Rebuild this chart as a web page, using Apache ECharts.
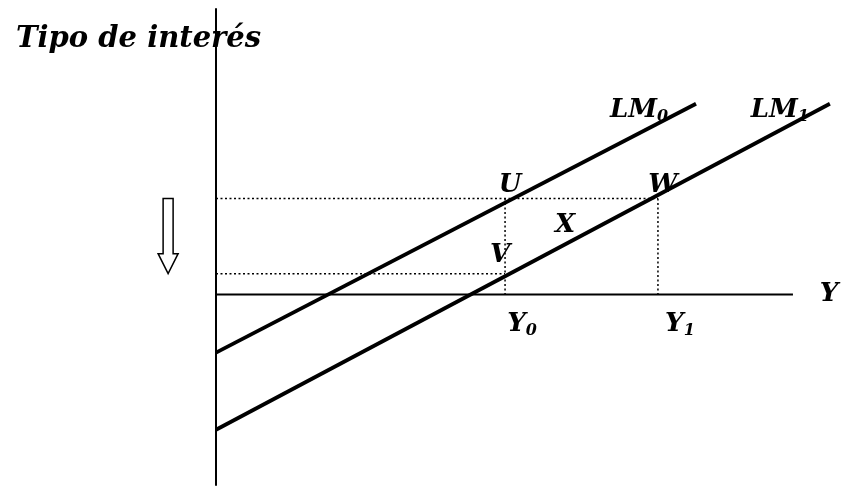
<!DOCTYPE html>
<html>
<head>
<meta charset="UTF-8">
<title>LM</title>
<script src="https://cdn.jsdelivr.net/npm/echarts@6/dist/echarts.min.js"></script>
<style>
  html, body { margin: 0; padding: 0; background: #fff; }
  #main { width: 842px; height: 486px; }
</style>
</head>
<body>
<div id="main"></div>
<script type="text/javascript">
    // valores (unidades arbitrarias)
    var lm0 = [[0, -12.2], [83.2, 40.1]];
    var lm1 = [[0, -28.4], [106.4, 40.1]];
    var axisY = [[0, 0], [100, 0]];
    var y0 = 50.1, y1 = 76.6;      // renta
    var iU = 20.2, iV = 4.4;       // tipo de interes
    var arrowX = -8.3;
    var pointNames = ['U', 'W', 'V', 'X'];
    var pointValues = [[y0, iU], [y1, iU], [y0, iV], [60.5, 14.5]];
    var lineNames = ['LM', 'LM'];
    var subs = ['0', '1'];

    var font = 'DejaVu Serif';
    var chart = echarts.init(document.getElementById('main'));

    var txt = {
        color: '#000',
        opacity: 1,
        fontFamily: font,
        fontStyle: 'italic',
        fontWeight: 'bold',
        fontSize: 26,
        textBorderWidth: 0
    };

    function richLabel(main, sub, offset) {
        return {
            show: true,
            position: 'inside',
            offset: offset,
            color: '#000',
            opacity: 1,
            formatter: '{m|' + main + '}{s|' + sub + '}',
            rich: {
                m: Object.assign({}, txt),
                s: Object.assign({}, txt, { fontSize: 16, padding: [13, 0, 0, 0] })
            }
        };
    }

    function plainLabel(t, offset) {
        return Object.assign({
            show: true,
            position: 'inside',
            offset: offset,
            formatter: t
        }, txt);
    }

    var guides = [
        [[0, iU], [y1, iU]],
        [[y0, iU], [y0, 0]],
        [[y1, iU], [y1, 0]],
        [[0, iV], [y0, iV]]
    ];

    var series = guides.map(function (g) {
        return {
            type: 'line',
            data: g,
            symbol: 'none',
            lineStyle: { color: '#000', width: 1.5, type: [2, 2.5] },
            silent: true,
            z: 2
        };
    });
    // eje de renta
    series.push({
        type: 'line',
        data: axisY,
        symbol: 'none',
        lineStyle: { color: '#000', width: 2 },
        silent: true,
        z: 2
    });
    [lm0, lm1].forEach(function (d) {
        series.push({
            type: 'line',
            data: d,
            symbol: 'none',
            lineStyle: { color: '#000', width: 3.8 },
            silent: true,
            z: 3
        });
    });

    var offs = [[5, -13], [5, -13], [-5, -18], [0, 0]];
    var labelData = pointNames.map(function (n, i) {
        return { value: pointValues[i], label: plainLabel(n, offs[i]) };
    });
    labelData.push({ value: lm0[1], label: richLabel(lineNames[0], subs[0], [-57, 7]) });
    labelData.push({ value: lm1[1], label: richLabel(lineNames[1], subs[1], [-50, 7]) });
    labelData.push({ value: [y0, 0], label: richLabel('Y', subs[0], [17, 30]) });
    labelData.push({ value: [y1, 0], label: richLabel('Y', subs[1], [22, 30]) });
    labelData.push({ value: axisY[1], label: plainLabel('Y', [36, 0]) });

    series.push({
        type: 'scatter',
        symbolSize: 0,
        clip: false,
        silent: true,
        itemStyle: { opacity: 1 },
        data: labelData,
        z: 5
    });

    // flecha de bajada del tipo de interes
    series.push({
        type: 'custom',
        clip: false,
        silent: true,
        data: [[arrowX, iU, iV]],
        renderItem: function (params, api) {
            var top = api.coord([api.value(0), api.value(1)]);
            var bot = api.coord([api.value(0), api.value(2)]);
            var cx = top[0], hw = 5, hh = 10, hl = 20;
            return {
                type: 'polygon',
                shape: {
                    points: [
                        [cx - hw, top[1]], [cx + hw, top[1]],
                        [cx + hw, bot[1] - hl], [cx + hh, bot[1] - hl],
                        [cx, bot[1]],
                        [cx - hh, bot[1] - hl], [cx - hw, bot[1] - hl]
                    ]
                },
                style: { fill: '#fff', stroke: '#000', lineWidth: 1.5 }
            };
        }
    });

    var option = {
        animation: false,
        backgroundColor: '#fff',
        title: {
            text: 'Tipo de interés',
            left: 11,
            top: 20,
            textStyle: Object.assign({}, txt, { fontSize: 29 })
        },
        grid: { left: 216, top: 9, width: 626, height: 476 },
        xAxis: {
            type: 'value',
            min: 0,
            max: 108.5,
            axisLine: { show: false },
            axisTick: { show: false },
            axisLabel: { show: false },
            splitLine: { show: false }
        },
        yAxis: {
            type: 'value',
            min: -40,
            max: 60,
            axisLine: { lineStyle: { color: '#000', width: 2 } },
            axisTick: { show: false },
            axisLabel: { show: false },
            splitLine: { show: false }
        },
        series: series
    };

    chart.setOption(option);
</script>
</body>
</html>
